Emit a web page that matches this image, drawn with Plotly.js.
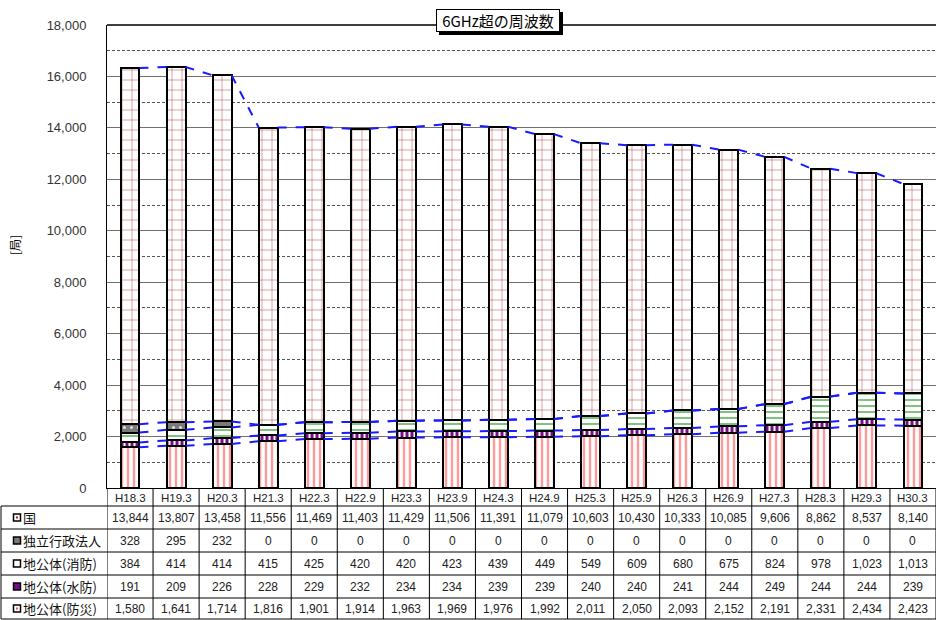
<!DOCTYPE html>
<html>
<head>
<meta charset="utf-8">
<script src="https://cdn.plot.ly/plotly-3.0.1.min.js"></script>
<style>html,body{margin:0;padding:0;background:#fff;}#chart{width:937px;height:620px;}</style>
</head>
<body>
<div id="chart"></div>
<script>
// ---- data ----
var categories = ["H18.3","H19.3","H20.3","H21.3","H22.3","H22.9","H23.3","H23.9","H24.3","H24.9","H25.3","H25.9","H26.3","H26.9","H27.3","H28.3","H29.3","H30.3"];
var kuni      = [13844,13807,13458,11556,11469,11403,11429,11506,11391,11079,10603,10430,10333,10085,9606,8862,8537,8140];
var dokuritsu = [328,295,232,0,0,0,0,0,0,0,0,0,0,0,0,0,0,0];
var shobo     = [384,414,414,415,425,420,420,423,439,449,549,609,680,675,824,978,1023,1013];
var suibo     = [191,209,226,228,229,232,234,234,239,239,240,240,241,244,249,244,244,239];
var bosai     = [1580,1641,1714,1816,1901,1914,1963,1969,1976,1992,2011,2050,2093,2152,2191,2331,2434,2423];
var rowLabels = ["国","独立行政法人","地公体(消防)","地公体(水防)","地公体(防災)"];
var titleText = "6GHz超の周波数";
var yTitle = "[局]";

// ---- geometry ----
var W = 937, H = 620, L = 107, R = 936, T = 25, B = 488;
function px(x){ return (x - L) / (R - L); }
function py(y){ return (B - y) / (B - T); }
var barW = 0.41;
var xs = categories.map(function(_, i){ return i; });

var seriesDefs = [
  {name: rowLabels[4], vals: bosai, pattern: {shape: "|", fgcolor: "#ff9a9a", bgcolor: "#ffffff", size: 6, solidity: 0.4, fillmode: "replace"}},
  {name: rowLabels[3], vals: suibo, pattern: {shape: "|", fgcolor: "#ffffff", bgcolor: "#7a0a8a", size: 5, solidity: 0.4, fillmode: "replace"}},
  {name: rowLabels[2], vals: shobo, pattern: {shape: "-", fgcolor: "#2a9a2a", bgcolor: "#ffffff", size: 6, solidity: 0.2, fillmode: "replace"}},
  {name: rowLabels[1], vals: dokuritsu, pattern: {shape: ".", fgcolor: "#dddddd", bgcolor: "#7a7a7a", size: 7, solidity: 0.15, fillmode: "replace"}},
  {name: rowLabels[0], vals: kuni, pattern: {shape: "+", fgcolor: "#b04848", bgcolor: "#ffffff", size: 10, solidity: 0.1, fillmode: "replace"}}
];

var traces = [];
seriesDefs.forEach(function(s){
  traces.push({
    type: "bar", x: xs, y: s.vals, name: s.name, width: barW,
    marker: {color: "#ffffff", pattern: s.pattern, line: {color: "#000000", width: 2}},
    hoverinfo: "y+name", showlegend: false
  });
});

// series lines (cumulative levels)
var cum = xs.map(function(){ return 0; });
seriesDefs.forEach(function(s){
  cum = cum.map(function(c, i){ return c + s.vals[i]; });
  var lx = [], ly = [];
  for (var i = 0; i < xs.length - 1; i++) {
    lx.push(xs[i] + barW / 2, xs[i + 1] - barW / 2, null);
    ly.push(cum[i], cum[i + 1], null);
  }
  traces.push({type: "scatter", mode: "lines", x: lx, y: ly, line: {color: "#1a1aff", width: 2, dash: "dash"}, hoverinfo: "skip", showlegend: false});
});

// ---- table ----
var ann = [], shapes = [];
var rowTops = [506, 529, 552, 575, 598];
var rowBottom = 619;
var rowCenters = [517.5, 540.5, 563.5, 586.5, 608.5];
var tableVals = [kuni, dokuritsu, shobo, suibo, bosai];
var keyFill = ["#ffffff", "#7a7a7a", "#ffffff", "#7a0a8a", "#ffffff"];
var keyInner = ["#c02020", null, null, null, "#ff5050"];
var numFont = {family: "Liberation Sans, Arial, sans-serif", size: 12, color: "#222"};
var cjkFont = {family: "Noto Sans CJK JP, sans-serif", size: 13, color: "#111"};

// header category labels
categories.forEach(function(c, i){
  ann.push({xref: "x", yref: "paper", x: i, y: py(497.5), text: c, showarrow: false, font: {family: "Liberation Sans, Arial, sans-serif", size: 11.5, color: "#222"}, xanchor: "center", yanchor: "middle"});
});
tableVals.forEach(function(vals, r){
  vals.forEach(function(v, i){
    ann.push({xref: "x", yref: "paper", x: i, y: py(rowCenters[r]), text: v.toLocaleString("en-US"), showarrow: false, font: numFont, xanchor: "center", yanchor: "middle"});
  });
  ann.push({xref: "paper", yref: "paper", x: px(21), y: py(rowCenters[r]), text: rowLabels[r], showarrow: false, font: cjkFont, xanchor: "left", yanchor: "middle"});
  // legend key
  shapes.push({type: "rect", xref: "paper", yref: "paper", x0: px(13.5), x1: px(20.5), y0: py(rowCenters[r] + 3.5), y1: py(rowCenters[r] - 3.5), line: {color: "#000", width: 1.5}, fillcolor: keyFill[r]});
  if (keyInner[r]) {
    shapes.push({type: "rect", xref: "paper", yref: "paper", x0: px(16), x1: px(18), y0: py(rowCenters[r] + 1), y1: py(rowCenters[r] - 1), line: {width: 0}, fillcolor: keyInner[r]});
  }
});
// horizontal table lines
rowTops.concat([rowBottom]).forEach(function(y){
  shapes.push({type: "line", xref: "paper", yref: "paper", x0: px(1), x1: px(R), y0: py(y), y1: py(y), line: {color: "#000", width: 1}});
});
// vertical table lines
for (var k = 0; k <= categories.length; k++) {
  shapes.push({type: "line", xref: "x", yref: "paper", x0: k - 0.5, x1: k - 0.5, y0: py(B), y1: py(rowBottom), line: {color: "#000", width: 1}});
}
shapes.push({type: "line", xref: "paper", yref: "paper", x0: px(1), x1: px(1), y0: py(rowTops[0]), y1: py(rowBottom), line: {color: "#000", width: 1}});
// top border of plot
shapes.push({type: "line", xref: "paper", yref: "paper", x0: 0, x1: 1, y0: 1, y1: 1, line: {color: "#000", width: 1.5}});

// title box shadow (decoration)
var tbx0 = 436, tbx1 = 560, tby0 = 9, tby1 = 32;
shapes.push({type: "rect", xref: "paper", yref: "paper", x0: px(tbx0 + 3), x1: px(tbx1 + 3), y0: py(tby1 + 3), y1: py(tby0 + 3), line: {width: 0}, fillcolor: "#000"});
ann.push({xref: "paper", yref: "paper", x: px((tbx0 + tbx1) / 2), y: py((tby0 + tby1) / 2), text: titleText, showarrow: false, xanchor: "center", yanchor: "middle",
  width: tbx1 - tbx0 - 4, height: tby1 - tby0 - 4,
  font: {family: "Noto Sans CJK JP, sans-serif", size: 15, color: "#000"}, bgcolor: "#fff", bordercolor: "#000", borderwidth: 1, borderpad: 1});
// y-axis title
ann.push({xref: "paper", yref: "paper", x: px(14), y: py(245), text: yTitle, textangle: -90, showarrow: false, xanchor: "center", yanchor: "middle", font: {family: "Noto Sans CJK JP, sans-serif", size: 12, color: "#000"}});

var layout = {
  width: W, height: H,
  margin: {l: L, r: W - R, t: T, b: H - B, pad: 0},
  paper_bgcolor: "#fff", plot_bgcolor: "#fff",
  barmode: "stack",
  showlegend: false,
  xaxis: {range: [-0.5, categories.length - 0.5], showgrid: false, zeroline: false, showticklabels: false, ticks: "", showline: true, linecolor: "#000", linewidth: 1, fixedrange: true},
  yaxis: {range: [0, 18000], dtick: 2000, tickformat: ",d", showgrid: true, gridcolor: "#6f6f6f", gridwidth: 1, zeroline: false,
          showline: true, linecolor: "#000", linewidth: 1, ticks: "", ticklabelstandoff: 17,
          tickfont: {family: "Liberation Sans, Arial, sans-serif", size: 13, color: "#333"},
          minor: {dtick: 1000, showgrid: true, gridcolor: "#555", griddash: "3px,2px", gridwidth: 1}, fixedrange: true},
  annotations: ann,
  shapes: shapes
};

Plotly.newPlot("chart", traces, layout, {displayModeBar: false, staticPlot: true});
</script>
</body>
</html>
